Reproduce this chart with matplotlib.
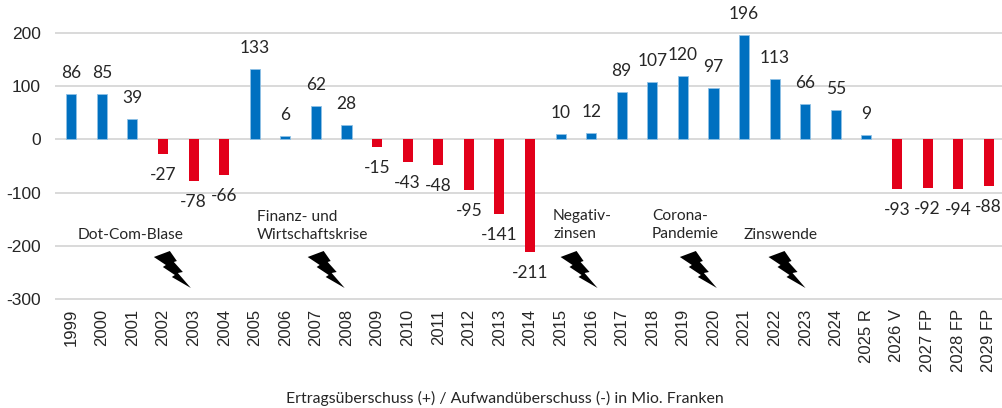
import matplotlib
matplotlib.use("Agg")
import numpy as np
import matplotlib.pyplot as plt
from matplotlib.patches import Polygon

years = ['1999', '2000', '2001', '2002', '2003', '2004', '2005', '2006', '2007', '2008',
         '2009', '2010', '2011', '2012', '2013', '2014', '2015', '2016', '2017', '2018',
         '2019', '2020', '2021', '2022', '2023', '2024', '2025 R', '2026 V', '2027 FP',
         '2028 FP', '2029 FP']
values = [86, 85, 39, -27, -78, -66, 133, 6, 62, 28,
          -15, -43, -48, -95, -141, -211, 10, 12, 89, 107,
          120, 97, 196, 113, 66, 55, 9, -93, -92, -94, -88]
y_ticks = [200, 100, 0, -100, -200, -300]

BLUE = '#0070c0'
BLUE_EDGE = '#8fc1e6'
RED = '#e2001a'
GRID = '#d9d9d9'
TXT = '#262626'
FONT = 'Lato'

# lightning bolt outline, pixels from its top left corner
bolt = np.array([(0, 6), (16, 0), (23, 10), (20, 11), (29, 21), (24, 22), (37, 37),
                 (18, 26), (21, 24), (9, 16), (12, 14)], dtype=float)
bolt_x = [2.70, 7.73, 16.0, 19.9, 22.8]

dpi = 100
fig = plt.figure(figsize=(10.03, 4.08), dpi=dpi)
ax = fig.add_axes([56 / 1003, 1 - 299 / 408, 948 / 1003, 266 / 408])

x = np.arange(len(years))
ax.set_xlim(-0.5, 30.5)
ax.set_ylim(-300, 200)

for t in y_ticks:
    ax.axhline(t, color=GRID, lw=1.4, zorder=1, clip_on=False)

for xi, v in zip(x, values):
    if v > 0:
        ax.bar(xi, v, width=0.33, color=BLUE, edgecolor=BLUE_EDGE, lw=0.6, zorder=2)
    else:
        ax.bar(xi, v, width=0.33, color=RED, zorder=2)

px = 72.0 / dpi
for xi, v in zip(x, values):
    off = 21 if v > 0 else -21
    ax.annotate(str(v), (xi, v), xytext=(0, off * px), textcoords='offset points',
                ha='center', va='center', fontsize=12.5, color=TXT, family=FONT,
                annotation_clip=False, zorder=3)

for s in ax.spines.values():
    s.set_visible(False)
ax.set_yticks(y_ticks)
ax.set_yticklabels([str(t) for t in y_ticks], fontsize=12.5, color=TXT, family='Liberation Sans')
ax.set_xticks(x)
ax.set_xticklabels(years, rotation=90, fontsize=12, color=TXT, family='Liberation Sans')
ax.tick_params(axis='both', length=0)
ax.tick_params(axis='x', pad=7)
ax.tick_params(axis='y', pad=10.8)

# crisis annotations, in pixel positions of the figure
notes = [(78, 235, 'Dot-Com-Blase'),
         (257, 226, 'Finanz- und\nWirtschaftskrise'),
         (553, 225, 'Negativ-\nzinsen'),
         (652, 225, 'Corona-\nPandemie'),
         (744, 235, 'Zinswende')]
for nx, ny, s in notes:
    fig.text(nx / 1003, 1 - ny / 408, s, ha='left', va='center', fontsize=11.2,
             color=TXT, family=FONT, linespacing=1.35)

for bx in bolt_x:
    left = ax.transData.transform((bx, 0))[0]
    pts = np.column_stack([left + bolt[:, 0], 408 - (251 + bolt[:, 1])])
    fig.add_artist(Polygon(pts, closed=True, color='black', lw=0, transform=None, zorder=4))

fig.text(505 / 1003, 1 - 398 / 408, 'Ertragsüberschuss (+) / Aufwandüberschuss (-) in Mio. Franken',
         ha='center', va='center', fontsize=11.4, color=TXT, family=FONT)

fig.savefig('out.png', dpi=dpi)
